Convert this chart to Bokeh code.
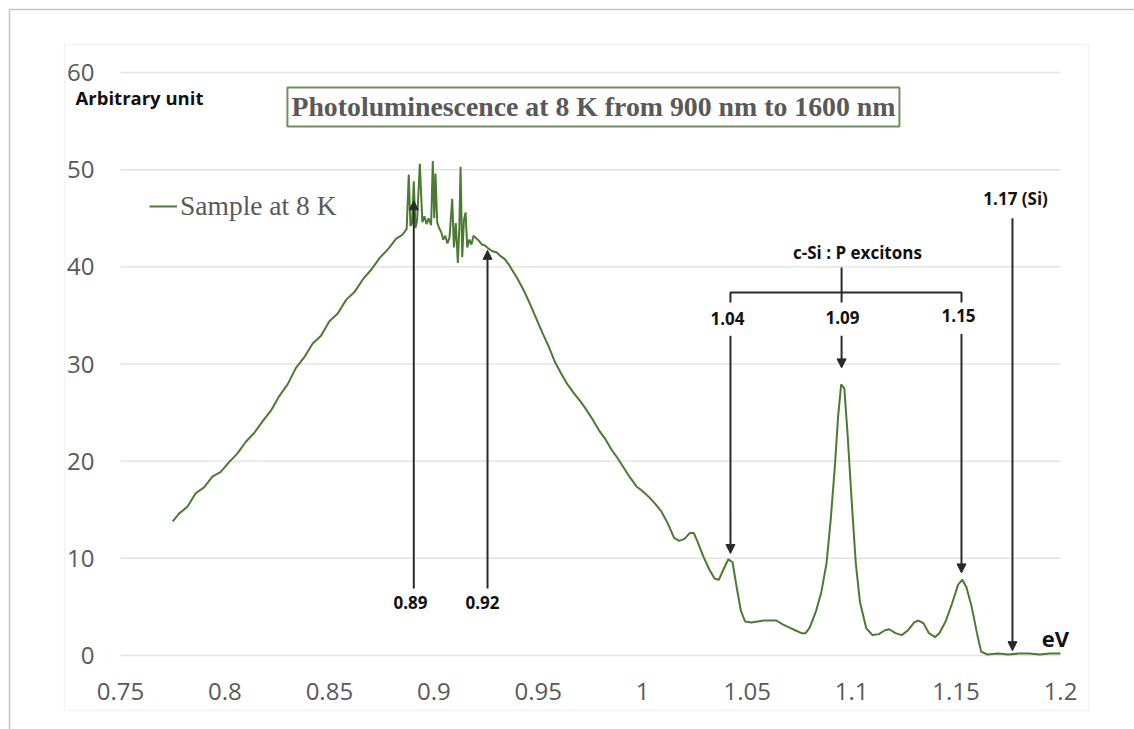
from bokeh.plotting import figure
from bokeh.models import (Range1d, FixedTicker, Label, Arrow, NormalHead,
                          BoxAnnotation, Legend, LegendItem, ColumnDataSource)
from bokeh.embed import file_html
from bokeh.resources import INLINE

# ---------------- data ----------------
energy_ev = [
    0.775, 0.778, 0.782, 0.786, 0.790, 0.794, 0.798, 0.802, 0.806, 0.810,
    0.814, 0.818, 0.822, 0.826, 0.830, 0.834, 0.838, 0.842, 0.846, 0.850,
    0.854, 0.858, 0.862, 0.866, 0.870, 0.874, 0.878, 0.882, 0.885, 0.887,
    0.8880, 0.8888, 0.8896, 0.8904, 0.8912, 0.8920, 0.8933, 0.8945, 0.8955, 0.8965,
    0.8975, 0.8987, 0.8995, 0.9002, 0.9008, 0.9016, 0.9025, 0.9035, 0.9045, 0.9055,
    0.9065, 0.9075, 0.9088, 0.9096, 0.9105, 0.9115, 0.9122, 0.9128, 0.9136, 0.9144,
    0.9152, 0.9160, 0.9170, 0.9180, 0.9190, 0.9200, 0.9215, 0.9230, 0.9245, 0.9260,
    0.9280, 0.9300, 0.9320, 0.9340, 0.9360, 0.9380, 0.9400, 0.9430, 0.9460, 0.9490,
    0.9520, 0.9550, 0.9580, 0.9610, 0.9640, 0.9670, 0.9700, 0.9730, 0.9760, 0.9790,
    0.9820, 0.9850, 0.9880, 0.9910, 0.9940, 0.9970, 1.0000, 1.0030, 1.0060, 1.0090,
    1.0120, 1.0150, 1.0175, 1.0200, 1.0225, 1.0245, 1.0265, 1.0290, 1.0320, 1.0345,
    1.0365, 1.0385, 1.0410, 1.0430, 1.0450, 1.0470, 1.0490, 1.0520, 1.0550, 1.0580,
    1.0610, 1.0640, 1.0670, 1.0700, 1.0730, 1.0760, 1.0780, 1.0800, 1.0830, 1.0855,
    1.0880, 1.0900, 1.0920, 1.0935, 1.0950, 1.0965, 1.0980, 1.1000, 1.1020, 1.1040,
    1.1070, 1.1100, 1.1130, 1.1160, 1.1180, 1.1210, 1.1240, 1.1270, 1.1300, 1.1320,
    1.1345, 1.1370, 1.1400, 1.1420, 1.1450, 1.1480, 1.1510, 1.1530, 1.1550, 1.1575,
    1.1600, 1.1620, 1.1650, 1.1700, 1.1750, 1.1800, 1.1850, 1.1900, 1.1950, 1.2000,
]
intensity = [
    13.8, 14.6, 15.3, 16.7, 17.3, 18.4, 18.9, 19.9, 20.8, 22.0,
    22.9, 24.1, 25.2, 26.7, 27.9, 29.6, 30.7, 32.1, 32.9, 34.4,
    35.2, 36.6, 37.4, 38.7, 39.7, 40.9, 41.8, 42.9, 43.3, 43.9,
    49.5, 44.2, 44.5, 48.8, 44.0, 44.8, 50.6, 44.6, 45.2, 44.4,
    45.0, 44.3, 50.9, 45.0, 49.6, 44.6, 44.0, 43.6, 42.8, 43.2,
    42.4, 43.0, 47.0, 42.0, 44.5, 40.4, 44.0, 50.3, 41.0, 44.8,
    45.6, 42.0, 42.8, 42.3, 43.2, 43.0, 42.7, 42.3, 42.2, 41.9,
    41.6, 41.5, 41.1, 40.8, 40.2, 39.5, 38.8, 37.6, 36.2, 34.7,
    33.2, 31.8, 30.2, 29.0, 27.9, 27.0, 26.2, 25.3, 24.3, 23.2,
    22.3, 21.2, 20.3, 19.3, 18.3, 17.4, 16.9, 16.3, 15.6, 14.8,
    13.6, 12.1, 11.8, 12.0, 12.6, 12.6, 11.6, 10.2, 8.8, 7.9,
    7.8, 8.8, 9.9, 9.6, 7.0, 4.6, 3.5, 3.4, 3.5, 3.6,
    3.6, 3.6, 3.2, 2.9, 2.6, 2.3, 2.3, 2.9, 4.6, 6.5,
    9.5, 14.0, 19.5, 24.5, 27.9, 27.5, 23.0, 16.0, 9.5, 5.5,
    2.8, 2.1, 2.2, 2.6, 2.7, 2.3, 2.1, 2.6, 3.4, 3.6,
    3.3, 2.3, 1.9, 2.3, 3.5, 5.3, 7.3, 7.8, 7.0, 5.0,
    2.3, 0.4, 0.1, 0.2, 0.1, 0.2, 0.2, 0.1, 0.2, 0.2,
]

x_ticks = [0.75, 0.8, 0.85, 0.9, 0.95, 1.0, 1.05, 1.1, 1.15, 1.2]
x_tick_labels = ["0.75", "0.8", "0.85", "0.9", "0.95", "1", "1.05", "1.1", "1.15", "1.2"]
y_ticks = [0, 10, 20, 30, 40, 50, 60]

# annotated peaks
up_labels = ["0.89", "0.92"]
up_x = [0.8904, 0.9257]
up_y0 = [6.9, 6.9]
up_y1 = [46.8, 41.7]
up_label_x = [0.8888, 0.9233]
up_label_y = [5.5, 5.5]

down_labels = ["1.04", "1.09", "1.15", "1.17 (Si)"]
down_x = [1.0420, 1.0952, 1.1526, 1.1770]
down_y0 = [32.9, 32.9, 33.1, 45.0]
down_y1 = [10.5, 29.6, 8.5, 0.5]
down_label_x = [1.0406, 1.0956, 1.1512, 1.1785]
down_label_y = [34.7, 34.8, 35.0, 47.0]

group_label = "c-Si : P excitons"
group_label_pos = (1.1028, 41.5)
bracket_y = 37.36
bracket_tick_y = 36.33
bracket_top_y = 39.93

title_text = "Photoluminescence at 8 K from 900 nm to 1600 nm"
series_name = "Sample at 8 K"

# ---------------- layout ----------------
W, H = 1134, 729
X0, X1 = 0.75, 1.2          # plotted x extent
Y0, Y1 = 0, 60              # plotted y extent
PX_L, PX_R = 120, 1060      # pixel columns of X0, X1
PX_T, PX_B = 72, 655        # pixel rows of Y1, Y0
sx = (PX_R - PX_L) / (X1 - X0)
sy = (PX_B - PX_T) / (Y1 - Y0)
x_range = Range1d(X0 - PX_L / sx, X0 + (W - PX_L) / sx)
y_range = Range1d(Y0 - (H - PX_B) / sy, Y0 + PX_B / sy)

p = figure(width=W, height=H, output_backend="svg", toolbar_location=None,
           x_range=x_range, y_range=y_range,
           min_border_left=0, min_border_right=0,
           min_border_top=0, min_border_bottom=0)
p.outline_line_color = None
p.background_fill_color = "white"
p.border_fill_color = "white"

# outer page frame (top and left edges) and chart-area frame
p.add_layout(BoxAnnotation(left=9, right=W + 50, top=9, bottom=H + 50,
                           left_units="canvas", right_units="canvas",
                           top_units="canvas", bottom_units="canvas",
                           fill_alpha=0, line_color="#3c3c3c", line_width=1.5,
                           level="underlay"))
p.add_layout(BoxAnnotation(left=64, right=1088, top=44, bottom=710,
                           left_units="canvas", right_units="canvas",
                           top_units="canvas", bottom_units="canvas",
                           fill_alpha=0, line_color="#d9d9d9", line_width=1.5,
                           level="underlay"))

# axes (fixed inside the frame so that surrounding decorations are not clipped)
p.xaxis.fixed_location = Y0
p.yaxis.fixed_location = X0
p.xaxis.ticker = FixedTicker(ticks=x_ticks)
p.xaxis.major_label_overrides = {t: s for t, s in zip(x_ticks, x_tick_labels)}
p.yaxis.ticker = FixedTicker(ticks=y_ticks)
for ax in (p.xaxis[0], p.yaxis[0]):
    ax.axis_line_color = None
    ax.major_tick_line_color = None
    ax.minor_tick_line_color = None
    ax.major_tick_in = 0
    ax.major_tick_out = 0
    ax.minor_tick_in = 0
    ax.minor_tick_out = 0
    ax.major_label_text_font = "Open Sans"
    ax.major_label_text_font_size = "24px"
    ax.major_label_text_color = "#595959"
p.xaxis.major_label_standoff = 27
p.yaxis.major_label_standoff = 26

# horizontal grid lines limited to the plotted x extent
p.xgrid.grid_line_color = None
p.ygrid.grid_line_color = None
p.segment(x0=[X0] * len(y_ticks), x1=[X1] * len(y_ticks), y0=y_ticks, y1=y_ticks,
          line_color="#e4e4e4", line_width=1.5, level="underlay")

# data line
src = ColumnDataSource(dict(x=energy_ev, y=intensity))
r = p.line("x", "y", source=src, line_color="#4b7a33", line_width=2)

legend = Legend(items=[LegendItem(label=series_name, renderers=[r])],
                location=(149, 507), padding=0, margin=0, spacing=0,
                glyph_width=28, glyph_height=20, label_standoff=3,
                label_text_font="Liberation Serif", label_text_font_size="27.5px",
                label_text_color="#595959", background_fill_alpha=0,
                border_line_color=None)
p.add_layout(legend, "center")

# title box
p.add_layout(Label(x=0.9764, y=56.45, text=title_text,
                   text_font="Liberation Serif", text_font_style="bold",
                   text_font_size="27.8px", text_color="#595959",
                   text_align="center", text_baseline="middle",
                   border_line_color="#6f8f5c", border_line_width=2,
                   background_fill_color="white", padding=4))

# y unit label
p.add_layout(Label(x=0.7285, y=57.4, text="Arbitrary unit",
                   text_font="Open Sans", text_font_style="bold",
                   text_font_size="18.5px", text_color="#111111",
                   text_align="left", text_baseline="middle"))

# x unit label
p.add_layout(Label(x=1.1976, y=1.8, text="eV",
                   text_font="Open Sans", text_font_style="bold",
                   text_font_size="22px", text_color="#111111",
                   text_align="center", text_baseline="middle"))

arrow_color = "#2a2a2a"
def head():
    return NormalHead(size=9, fill_color=arrow_color, line_color=arrow_color)

for lab, ax_, y0, y1, lx, ly in zip(up_labels + down_labels,
                                    up_x + down_x, up_y0 + down_y0,
                                    up_y1 + down_y1,
                                    up_label_x + down_label_x,
                                    up_label_y + down_label_y):
    p.add_layout(Arrow(end=head(), x_start=ax_, y_start=y0, x_end=ax_, y_end=y1,
                       line_color=arrow_color, line_width=2))
    p.add_layout(Label(x=lx, y=ly, text=lab, text_font="Open Sans",
                       text_font_style="bold", text_font_size="17px",
                       text_color="#111111", text_align="center",
                       text_baseline="middle"))

# bracket grouping the c-Si:P exciton peaks
bx0, bx1 = down_x[0], down_x[2]
bxc = down_x[1]
p.multi_line(xs=[[bx0, bx0, bx1, bx1], [bxc, bxc]],
             ys=[[bracket_tick_y, bracket_y, bracket_y, bracket_tick_y],
                 [bracket_tick_y, bracket_top_y]],
             line_color=arrow_color, line_width=2)
p.add_layout(Label(x=group_label_pos[0], y=group_label_pos[1], text=group_label,
                   text_font="Open Sans", text_font_style="bold",
                   text_font_size="17px", text_color="#111111",
                   text_align="center", text_baseline="middle"))

open("out.html", "w").write(file_html(p, INLINE))
